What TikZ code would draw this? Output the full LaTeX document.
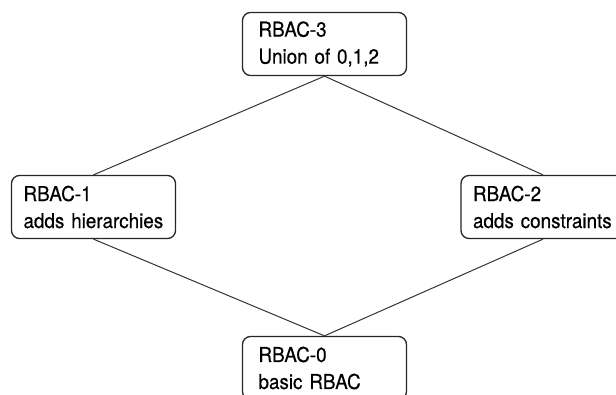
\documentclass[tikz,border=0pt]{standalone}
\usepackage{fontspec}
\setmainfont{TeX Gyre Heros}[FakeStretch=0.92,FakeBold=0.4]
\begin{document}
\begin{tikzpicture}[x=1pt,y=-1pt,
  level/.style={draw=black!85, line width=1.3pt, rounded corners=8pt,
    minimum width=164pt, minimum height=63pt, align=left,
    font=\fontsize{20.5pt}{27pt}\selectfont, anchor=center},
  link/.style={draw=black!80, line width=1pt}]
  \useasboundingbox (0,0) rectangle (616,394);
  \clip (0,0) rectangle (616,394);
  \node[level, text width=132pt, inner xsep=16pt] (r3) at (324.5,44) {RBAC-3\\Union of 0,1,2};
  \node[level, text width=140pt, inner xsep=12pt] (r1) at (93.5,207) {RBAC-1\\adds hierarchies};
  \node[level, text width=140pt, inner xsep=12pt] (r2) at (543,207) {RBAC-2\\adds constraints};
  \node[level, text width=132pt, inner xsep=16pt] (r0) at (324.5,368) {RBAC-0\\basic RBAC};
  \draw[link] (r3.south) -- (r1.north);
  \draw[link] (r3.south) -- (r2.north);
  \draw[link] (r1.south) -- (r0.north);
  \draw[link] (r2.south) -- (r0.north);
\end{tikzpicture}
\end{document}
